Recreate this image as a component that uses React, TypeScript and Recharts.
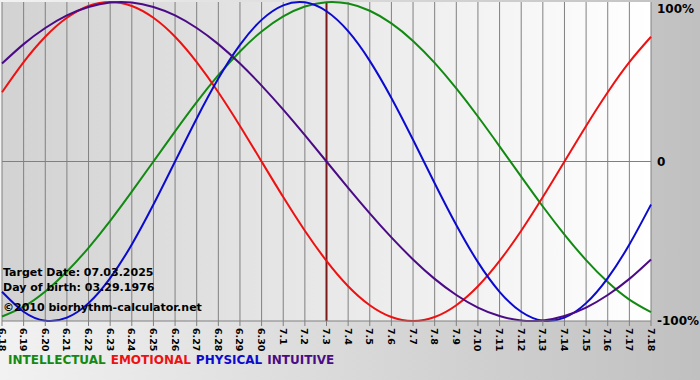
import { LineChart, Line, XAxis, YAxis, CartesianGrid, ReferenceLine } from "recharts";

const days = [
  "6.18", "6.19", "6.20", "6.21", "6.22", "6.23", "6.24", "6.25", "6.26", "6.27", "6.28",
  "6.29", "6.30", "7.1", "7.2", "7.3", "7.4", "7.5", "7.6", "7.7", "7.8", "7.9", "7.10",
  "7.11", "7.12", "7.13", "7.14", "7.15", "7.16", "7.17", "7.18"
];

const physical = [
  -0.817, -0.942, -0.998, -0.979, -0.888, -0.731, -0.52, -0.27, 0, 0.27, 0.52,
  0.731, 0.888, 0.979, 0.998, 0.942, 0.817, 0.631, 0.398, 0.136, -0.136, -0.398,
  -0.631, -0.817, -0.942, -0.998, -0.979, -0.888, -0.731, -0.52, -0.27
];

const emotional = [
  0.434, 0.623, 0.782, 0.901, 0.975, 1, 0.975, 0.901, 0.782, 0.623, 0.434,
  0.223, 0, -0.223, -0.434, -0.623, -0.782, -0.901, -0.975, -1, -0.975, -0.901,
  -0.782, -0.623, -0.434, -0.223, 0, 0.223, 0.434, 0.623, 0.782
];

const intellectual = [
  -0.972, -0.91, -0.815, -0.69, -0.541, -0.372, -0.189, 0, 0.189, 0.372, 0.541,
  0.69, 0.815, 0.91, 0.972, 0.999, 0.99, 0.945, 0.866, 0.756, 0.618, 0.458,
  0.282, 0.095, -0.095, -0.282, -0.458, -0.618, -0.756, -0.866, -0.945
];

const intuitive = [
  0.614, 0.736, 0.837, 0.916, 0.969, 0.997, 0.997, 0.969, 0.916, 0.837, 0.736,
  0.614, 0.476, 0.325, 0.165, 0, -0.165, -0.325, -0.476, -0.614, -0.736, -0.837,
  -0.916, -0.969, -0.997, -0.997, -0.969, -0.916, -0.837, -0.736, -0.614
];

const yTicks = [-1, 0, 1];
const yLabels: Record<string, string> = { "-1": "-100%", "0": "0", "1": "100%" };

const series = [
  { key: "intellectual", name: "INTELLECTUAL", color: "#128a12" },
  { key: "emotional", name: "EMOTIONAL", color: "#ee1111" },
  { key: "physical", name: "PHYSICAL", color: "#0b0bd0" },
  { key: "intuitive", name: "INTUITIVE", color: "#4b0b86" }
];

const data = days.map((day, i) => ({
  day,
  physical: physical[i],
  emotional: emotional[i],
  intellectual: intellectual[i],
  intuitive: intuitive[i]
}));

const FONT = "'DejaVu Sans', Verdana, sans-serif";

function DayTick({ x = 0, y = 0, payload }: any) {
  return (
    <text
      x={x}
      y={y}
      transform={`rotate(90, ${x}, ${y})`}
      dominantBaseline="central"
      textAnchor="start"
      fontSize={9.5}
      fontWeight={700}
      fontFamily={FONT}
      fill="#000"
    >
      {payload.value}
    </text>
  );
}

function PercentTick({ x = 0, y = 0, payload }: any) {
  return (
    <text
      x={x}
      y={y}
      dominantBaseline="central"
      textAnchor="start"
      fontSize={12}
      fontWeight={700}
      fontFamily={FONT}
      fill="#000"
    >
      {yLabels[String(payload.value)]}
    </text>
  );
}

export default function App() {
  return (
    <div
      style={{
        position: "absolute",
        left: 0,
        top: 0,
        width: 700,
        height: 380,
        overflow: "hidden",
        background: "linear-gradient(to right, #f2f2f2, #c0c0c0)",
        fontFamily: FONT
      }}
    >
      <div
        style={{
          position: "absolute",
          left: 2,
          top: 2,
          width: 649,
          height: 319,
          background: "linear-gradient(to right, #d2d2d2, #ffffff)"
        }}
      />
      <div style={{ position: "absolute", left: 0, top: 0 }}>
        <LineChart width={700} height={380} data={data} margin={{ top: 2, right: 0, bottom: 0, left: 2 }}>
          <CartesianGrid vertical horizontal={false} stroke="#808080" />
          <XAxis
            dataKey="day"
            height={59}
            interval={0}
            tick={<DayTick />}
            tickSize={5}
            tickMargin={2}
            stroke="#808080"
          />
          <YAxis
            orientation="right"
            width={49}
            domain={[-1, 1]}
            ticks={yTicks}
            tick={<PercentTick />}
            axisLine={false}
            tickLine={false}
            tickMargin={0}
          />
          <ReferenceLine y={0} stroke="#808080" />
          <ReferenceLine x="7.3" stroke="#7a1a1a" strokeWidth={2} />
          {series.map((s) => (
            <Line
              key={s.key}
              dataKey={s.key}
              type="natural"
              stroke={s.color}
              strokeWidth={2}
              dot={false}
              isAnimationActive={false}
            />
          ))}
        </LineChart>
      </div>
      <div
        style={{
          position: "absolute",
          left: 3,
          top: 265,
          fontSize: 11,
          fontWeight: 700,
          lineHeight: "15px",
          color: "#000",
          whiteSpace: "nowrap"
        }}
      >
        <div>Target Date: 07.03.2025</div>
        <div>Day of birth: 03.29.1976</div>
        <div style={{ marginTop: 5 }}>©2010 biorhythm-calculator.net</div>
      </div>
      <div
        style={{
          position: "absolute",
          left: 8,
          top: 353,
          fontSize: 12,
          fontWeight: 700,
          whiteSpace: "nowrap"
        }}
      >
        {series.map((s) => (
          <span key={s.key} style={{ color: s.color, marginRight: 5 }}>
            {s.name}
          </span>
        ))}
      </div>
    </div>
  );
}
